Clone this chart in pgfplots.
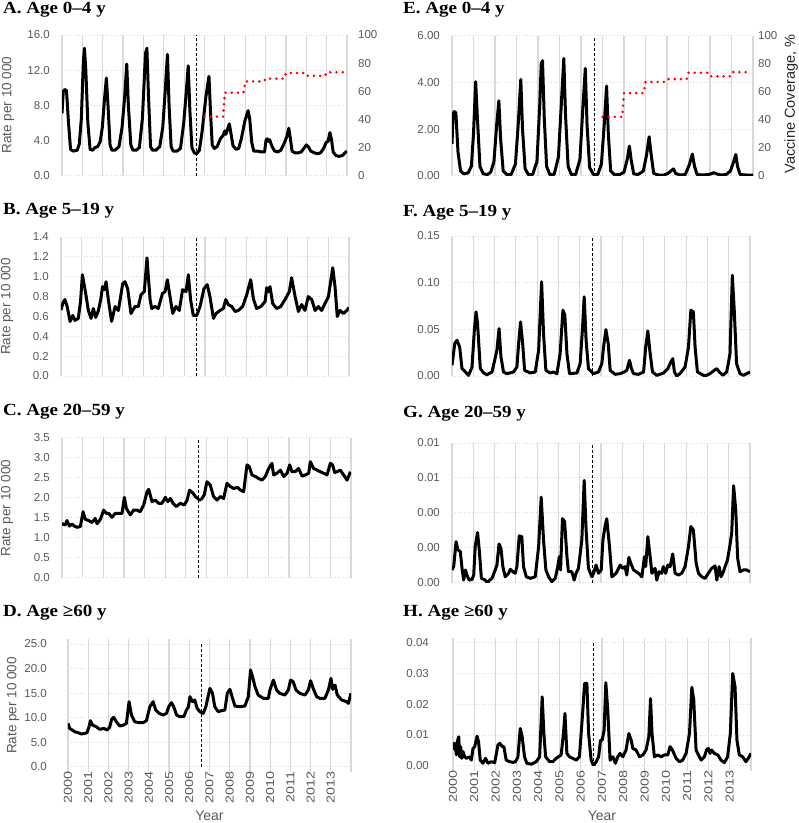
\documentclass[border=0pt]{standalone}
\usepackage{fontspec}
\setmainfont{Liberation Sans}
\newfontfamily\tfont{Liberation Serif}
\usepackage{graphicx}
\usepackage{pgfplots}
\pgfplotsset{compat=1.18}
\definecolor{gridc}{HTML}{D9D9D9}
\definecolor{tickc}{HTML}{595959}
\newcommand\xl[1]{\scalebox{1.25}[1]{#1}}
\pgfplotsset{
 base/.style={scale only axis, xmin=2000, xmax=2014, ymin=0,
   xtick={2000,2001,...,2014}, xticklabels={}, scaled y ticks=false,
   axis line style={draw=none}, major tick length=0pt,
   xmajorgrids, ymajorgrids,
   x grid style={gridc, line width=1.2pt},
   y grid style={gridc, line width=0.9pt, dotted},
   tick label style={font=\fontsize{11.5}{13}\selectfont, text=tickc},
   yticklabel style={inner sep=0pt, anchor=east, xshift=-12pt}},
 bottomrow/.style={
   xticklabels={\xl{2000},\xl{2001},\xl{2002},\xl{2003},\xl{2004},\xl{2005},\xl{2006},\xl{2007},\xl{2008},\xl{2009},\xl{2010},\xl{2011},\xl{2012},\xl{2013},{}},
   xticklabel style={rotate=90, anchor=east, inner xsep=0pt, inner ysep=0pt},
   major tick length=5pt, tick align=outside,
   xtick style={draw=gridc, line width=1.2pt}, ytick style={draw=none},
   extra y ticks={0}, extra y tick labels={},
   extra y tick style={grid style={solid, gridc, line width=1.2pt}}},
 rightax/.style={scale only axis, xmin=2000, xmax=2014, ymin=0, ymax=100,
   axis x line=none, axis y line*=right, axis line style={draw=none},
   major tick length=0pt, ytick={0,20,...,100}, yticklabels={0,20,40,60,80,100},
   tick label style={font=\fontsize{11.5}{13}\selectfont, text=tickc}},
 rate/.style={black, line width=3pt, line join=round, no marks},
 vl/.style={black, line width=0.8pt, dash pattern=on 3pt off 2pt, no marks},
 cov/.style={red, line width=2.8pt, line cap=round, dash pattern=on 0pt off 6.2pt, no marks},
}
\newcommand\ttl[1]{\scalebox{1.12}[1]{\tfont\bfseries\fontsize{17}{19}\selectfont #1}}
\newcommand\ylab[1]{{\fontsize{13.5}{15}\selectfont\color{tickc}#1}}
\begin{document}
\begin{tikzpicture}
\useasboundingbox (0,0) rectangle (799pt,-823pt);
% ---------------- A ----------------
\begin{axis}[base, at={(62pt,-175.7pt)}, anchor=south west, width=285pt, height=140.7pt,
  ymax=16, ytick={0,4,8,12,16}, yticklabels={0.0,4.0,8.0,12.0,16.0}]
\addplot[rate] table {
2000.00 7.1
2000.06 9.5
2000.12 9.8
2000.22 9.7
2000.32 6.0
2000.42 3.0
2000.55 2.8
2000.75 2.9
2000.85 3.6
2000.95 6.5
2001.05 13.0
2001.10 14.5
2001.17 12.0
2001.27 6.0
2001.38 3.0
2001.50 2.9
2001.62 3.2
2001.75 3.3
2001.88 3.9
2001.98 5.5
2002.08 8.5
2002.18 11.1
2002.26 8.0
2002.36 3.5
2002.45 2.9
2002.60 2.9
2002.80 3.3
2002.95 5.5
2003.08 9.0
2003.18 12.7
2003.26 8.0
2003.38 3.5
2003.48 2.9
2003.65 2.9
2003.80 3.2
2003.95 6.5
2004.10 13.9
2004.17 14.5
2004.25 9.0
2004.35 3.3
2004.45 2.9
2004.62 2.9
2004.80 3.3
2004.95 5.5
2005.08 10.0
2005.18 13.8
2005.26 8.0
2005.36 3.3
2005.46 2.8
2005.65 2.8
2005.82 3.1
2005.98 6.0
2006.12 10.0
2006.20 12.5
2006.28 7.5
2006.38 3.2
2006.50 2.6
2006.62 2.5
2006.75 2.9
2006.88 5.0
2007.07 9.0
2007.22 11.3
2007.30 7.0
2007.38 3.5
2007.48 3.1
2007.62 3.3
2007.78 4.2
2007.92 4.6
2008.00 5.1
2008.05 4.7
2008.12 5.2
2008.22 5.9
2008.30 4.8
2008.40 3.4
2008.55 3.0
2008.68 3.1
2008.82 4.3
2008.98 6.2
2009.14 7.4
2009.22 6.5
2009.32 3.8
2009.42 2.8
2009.60 2.8
2009.80 2.7
2009.95 2.7
2010.02 4.0
2010.08 4.2
2010.14 3.9
2010.20 4.1
2010.32 3.3
2010.45 2.8
2010.60 2.7
2010.75 2.9
2010.92 3.7
2011.05 4.5
2011.14 5.4
2011.22 4.2
2011.30 2.8
2011.45 2.6
2011.60 2.6
2011.75 2.7
2011.88 3.1
2012.00 3.5
2012.10 3.3
2012.22 2.8
2012.40 2.6
2012.55 2.5
2012.70 2.6
2012.85 3.1
2012.98 3.8
2013.07 3.9
2013.16 4.9
2013.24 4.1
2013.32 2.7
2013.45 2.3
2013.60 2.2
2013.78 2.3
2013.90 2.6
2014.00 2.8
};
\addplot[vl] coordinates {(2006.6,0) (2006.6,16)};
\end{axis}
\begin{axis}[rightax, at={(62pt,-175.7pt)}, anchor=south west, width=285pt, height=140.7pt,
  yticklabel style={inner sep=0pt, anchor=west, xshift=11pt}]
\addplot[cov] coordinates {(2007.0,42) (2007.917,42) (2008.0,59) (2008.917,59) (2009.0,67) (2009.917,67) (2010.0,69) (2010.917,69) (2011.0,73) (2011.917,73) (2012.0,71) (2012.917,71) (2013.0,73.5) (2013.917,73.5)};
\end{axis}
% ---------------- E ----------------
\begin{axis}[base, at={(452pt,-175.7pt)}, anchor=south west, width=301pt, height=140pt,
  ymax=6, ytick={0,2,4,6}, yticklabels={0.00,2.00,4.00,6.00}]
\addplot[rate] table {
2000.00 1.36
2000.05 2.6
2000.10 2.75
2000.18 2.7
2000.28 1.0
2000.40 0.2
2000.55 0.08
2000.75 0.12
2000.90 0.4
2001.00 1.8
2001.10 4.03
2001.18 2.5
2001.30 0.4
2001.45 0.08
2001.65 0.05
2001.80 0.15
2001.95 0.6
2002.08 2.2
2002.18 3.21
2002.26 1.6
2002.38 0.2
2002.55 0.05
2002.75 0.05
2002.95 0.5
2003.08 2.2
2003.20 4.13
2003.28 2.0
2003.40 0.3
2003.55 0.05
2003.75 0.05
2003.95 0.6
2004.08 3.0
2004.15 4.8
2004.21 4.93
2004.29 2.5
2004.40 0.4
2004.55 0.05
2004.75 0.05
2004.95 0.8
2005.08 3.0
2005.20 5.03
2005.28 2.6
2005.40 0.4
2005.55 0.05
2005.75 0.05
2005.95 0.7
2006.08 2.8
2006.20 4.6
2006.28 2.2
2006.40 0.35
2006.58 0.05
2006.78 0.05
2006.95 0.5
2007.08 2.2
2007.19 3.84
2007.27 1.8
2007.38 0.2
2007.55 0.05
2007.80 0.05
2008.00 0.15
2008.15 0.7
2008.25 1.27
2008.33 0.7
2008.45 0.08
2008.65 0.05
2008.90 0.2
2009.05 0.9
2009.17 1.67
2009.25 1.0
2009.38 0.1
2009.60 0.03
2009.85 0.03
2010.05 0.1
2010.20 0.22
2010.30 0.29
2010.40 0.1
2010.60 0.03
2010.85 0.05
2011.05 0.5
2011.18 0.93
2011.28 0.4
2011.40 0.05
2011.65 0.03
2011.90 0.05
2012.05 0.08
2012.18 0.13
2012.30 0.08
2012.50 0.03
2012.75 0.05
2012.95 0.2
2013.10 0.6
2013.20 0.91
2013.28 0.4
2013.40 0.05
2013.70 0.03
2014.00 0.03
};
\addplot[vl] coordinates {(2006.6,0) (2006.6,6)};
\end{axis}
\begin{axis}[rightax, at={(452pt,-175.7pt)}, anchor=south west, width=301pt, height=140pt,
  yticklabel style={inner sep=0pt, anchor=west, xshift=5pt}]
\addplot[cov] coordinates {(2007.0,42) (2007.917,42) (2008.0,59) (2008.917,59) (2009.0,67) (2009.917,67) (2010.0,69) (2010.917,69) (2011.0,73.5) (2011.917,73.5) (2012.0,71) (2012.917,71) (2013.0,74) (2013.917,74)};
\end{axis}
% ---------------- B ----------------
\begin{axis}[base, at={(61pt,-376pt)}, anchor=south west, width=288pt, height=139pt,
  ymax=1.4, ytick={0,0.2,0.4,0.6,0.8,1.0,1.2,1.4}, yticklabels={0.0,0.2,0.4,0.6,0.8,1.0,1.2,1.4}]
\addplot[rate] table {
2000.00 0.665
2000.10 0.74
2000.19 0.77
2000.30 0.70
2000.44 0.55
2000.57 0.61
2000.68 0.56
2000.84 0.58
2000.95 0.75
2001.04 1.02
2001.17 0.87
2001.33 0.66
2001.46 0.58
2001.57 0.68
2001.69 0.59
2001.82 0.66
2001.94 0.78
2002.02 0.90
2002.11 0.87
2002.19 0.95
2002.30 0.77
2002.46 0.55
2002.63 0.70
2002.79 0.66
2003.00 0.93
2003.11 0.95
2003.24 0.88
2003.40 0.63
2003.60 0.70
2003.76 0.70
2003.89 0.82
2004.05 0.85
2004.18 1.19
2004.33 0.77
2004.41 0.68
2004.57 0.70
2004.73 0.68
2004.93 0.83
2005.06 0.85
2005.17 0.97
2005.30 0.80
2005.43 0.63
2005.59 0.70
2005.75 0.66
2005.91 0.87
2006.08 0.85
2006.19 1.02
2006.30 0.77
2006.43 0.61
2006.60 0.61
2006.76 0.70
2006.95 0.88
2007.11 0.92
2007.24 0.80
2007.41 0.58
2007.54 0.63
2007.73 0.66
2007.89 0.68
2008.01 0.77
2008.13 0.72
2008.30 0.70
2008.46 0.65
2008.62 0.66
2008.83 0.70
2009.03 0.82
2009.22 0.97
2009.35 0.78
2009.51 0.68
2009.72 0.70
2009.92 0.75
2010.00 0.89
2010.08 0.85
2010.16 0.90
2010.29 0.73
2010.48 0.68
2010.68 0.70
2010.89 0.77
2011.10 0.85
2011.21 0.99
2011.38 0.80
2011.54 0.65
2011.70 0.72
2011.86 0.66
2012.02 0.80
2012.19 0.77
2012.35 0.66
2012.51 0.70
2012.67 0.66
2012.83 0.73
2013.00 0.80
2013.21 1.09
2013.32 0.90
2013.43 0.60
2013.56 0.66
2013.73 0.63
2013.89 0.66
2014.00 0.69
};
\addplot[vl] coordinates {(2006.6,0) (2006.6,1.4)};
\end{axis}
% ---------------- F ----------------
\begin{axis}[base, at={(452pt,-376pt)}, anchor=south west, width=298pt, height=140pt,
  ymax=0.15, ytick={0,0.05,0.10,0.15}, yticklabels={0.00,0.05,0.10,0.15}]
\addplot[rate] table {
2000.00 0.0115
2000.13 0.0347
2000.23 0.0383
2000.36 0.0311
2000.47 0.0079
2000.63 0.0043
2000.78 0.0007
2000.94 0.0097
2001.05 0.049
2001.13 0.0687
2001.20 0.0562
2001.33 0.0079
2001.49 0.0032
2001.64 0.0014
2001.88 0.0043
2002.11 0.0276
2002.21 0.0508
2002.30 0.0204
2002.42 0.0043
2002.58 0.0025
2002.89 0.0043
2003.05 0.0097
2003.13 0.0347
2003.22 0.058
2003.32 0.0347
2003.41 0.0061
2003.68 0.0032
2003.91 0.0043
2004.07 0.0276
2004.21 0.101
2004.30 0.0455
2004.41 0.0061
2004.61 0.0032
2004.77 0.0043
2004.93 0.0025
2005.08 0.024
2005.21 0.0705
2005.30 0.0652
2005.40 0.024
2005.52 0.0025
2005.87 0.0032
2006.02 0.0132
2006.13 0.0508
2006.21 0.0849
2006.30 0.0383
2006.41 0.0079
2006.65 0.0025
2006.88 0.0043
2007.04 0.0132
2007.12 0.031
2007.23 0.0498
2007.34 0.0347
2007.43 0.0061
2007.66 0.0018
2007.90 0.0025
2008.09 0.0043
2008.21 0.0061
2008.34 0.0168
2008.43 0.0079
2008.53 0.0025
2008.76 0.0018
2009.00 0.0043
2009.10 0.031
2009.20 0.0483
2009.31 0.024
2009.42 0.0043
2009.62 0.0007
2009.93 0.0032
2010.14 0.0079
2010.28 0.0150
2010.37 0.0186
2010.45 0.0043
2010.56 0.0
2010.71 0.0025
2010.95 0.0097
2011.11 0.031
2011.22 0.0705
2011.34 0.0687
2011.42 0.031
2011.53 0.0043
2011.73 0.0018
2011.89 0.0
2012.12 0.0025
2012.28 0.0054
2012.44 0.0079
2012.56 0.0043
2012.72 0.0007
2012.90 0.0043
2012.98 0.0132
2013.06 0.024
2013.17 0.108
2013.26 0.0705
2013.37 0.0132
2013.53 0.0025
2013.69 0.0007
2013.84 0.0025
2014.00 0.0043
};
\addplot[vl] coordinates {(2006.6,0) (2006.6,0.15)};
\end{axis}
% ---------------- C ----------------
\begin{axis}[base, at={(62pt,-577.7pt)}, anchor=south west, width=289pt, height=140pt,
  ymax=3.5, ytick={0,0.5,1.0,1.5,2.0,2.5,3.0,3.5}, yticklabels={0.0,0.5,1.0,1.5,2.0,2.5,3.0,3.5}]
\addplot[rate] table {
2000.00 1.36
2000.08 1.33
2000.16 1.32
2000.24 1.43
2000.36 1.29
2000.48 1.34
2000.60 1.29
2000.73 1.26
2000.89 1.28
2001.02 1.65
2001.13 1.46
2001.29 1.43
2001.45 1.38
2001.61 1.48
2001.70 1.35
2001.86 1.46
2002.02 1.69
2002.15 1.61
2002.26 1.61
2002.42 1.51
2002.58 1.61
2002.79 1.61
2002.91 1.61
2003.02 2.01
2003.12 1.73
2003.31 1.57
2003.47 1.69
2003.63 1.69
2003.79 1.65
2003.96 1.82
2004.12 2.15
2004.20 2.21
2004.36 1.90
2004.52 1.94
2004.68 1.86
2004.84 1.86
2005.01 2.01
2005.12 1.90
2005.25 1.98
2005.38 1.86
2005.54 1.78
2005.73 1.86
2005.93 1.82
2006.06 1.94
2006.18 2.19
2006.35 2.11
2006.46 2.03
2006.67 1.94
2006.78 1.98
2006.89 2.07
2007.02 2.40
2007.18 2.32
2007.34 2.03
2007.51 1.94
2007.67 2.03
2007.83 1.98
2007.99 2.36
2008.15 2.28
2008.32 2.23
2008.51 2.26
2008.64 2.19
2008.80 2.15
2008.96 2.82
2009.07 2.78
2009.20 2.57
2009.37 2.53
2009.53 2.48
2009.69 2.44
2009.85 2.53
2010.01 2.73
2010.17 2.86
2010.25 2.57
2010.41 2.61
2010.58 2.69
2010.74 2.53
2010.90 2.61
2011.03 2.82
2011.14 2.65
2011.30 2.65
2011.46 2.73
2011.63 2.54
2011.79 2.57
2011.95 2.61
2012.03 2.90
2012.19 2.73
2012.35 2.69
2012.51 2.65
2012.68 2.61
2012.84 2.57
2013.00 2.86
2013.11 2.82
2013.21 2.63
2013.32 2.65
2013.48 2.69
2013.64 2.57
2013.81 2.44
2013.97 2.65
};
\addplot[vl] coordinates {(2006.6,0) (2006.6,3.5)};
\end{axis}
% ---------------- G ----------------
\begin{axis}[base, at={(452pt,-582.7pt)}, anchor=south west, width=298pt, height=139.7pt,
  ymax=0.008, ytick={0,0.002,0.004,0.006,0.008}, yticklabels={0.00,0.00,0.00,0.01,0.01}]
\addplot[rate] table {
2000.00 0.00073
2000.08 0.00092
2000.19 0.00235
2000.28 0.00188
2000.39 0.00178
2000.48 0.00073
2000.55 0.00015
2000.63 0.00073
2000.70 0.00044
2000.81 0.00015
2000.94 0.00019
2001.02 0.00044
2001.09 0.00207
2001.20 0.00287
2001.28 0.00188
2001.38 0.00025
2001.56 0.00015
2001.67 0.0
2001.77 0.00015
2001.88 0.00025
2002.03 0.00073
2002.11 0.00101
2002.21 0.00222
2002.30 0.00197
2002.39 0.00092
2002.50 0.00034
2002.66 0.00054
2002.74 0.00077
2002.86 0.00063
2002.97 0.00054
2003.05 0.00092
2003.16 0.00268
2003.28 0.00264
2003.36 0.00092
2003.49 0.00034
2003.68 0.00025
2003.91 0.00034
2004.07 0.00207
2004.19 0.0049
2004.30 0.00245
2004.41 0.00073
2004.54 0.00034
2004.69 0.00006
2004.85 0.00025
2004.97 0.00092
2005.04 0.00149
2005.10 0.00073
2005.19 0.00367
2005.29 0.00350
2005.40 0.00149
2005.47 0.00063
2005.63 0.00063
2005.74 0.00015
2005.83 0.00054
2005.94 0.00082
2006.10 0.00245
2006.21 0.00586
2006.30 0.00302
2006.41 0.00082
2006.57 0.00034
2006.65 0.00054
2006.77 0.00101
2006.88 0.00054
2007.01 0.00073
2007.09 0.00245
2007.20 0.00331
2007.27 0.00366
2007.40 0.00207
2007.51 0.00034
2007.71 0.00054
2007.90 0.00101
2008.02 0.00082
2008.13 0.00092
2008.21 0.00044
2008.31 0.00145
2008.40 0.00111
2008.53 0.00073
2008.76 0.00054
2008.92 0.00034
2009.04 0.00149
2009.10 0.00092
2009.20 0.00264
2009.31 0.00149
2009.39 0.00054
2009.54 0.00082
2009.62 0.00015
2009.73 0.00063
2009.85 0.00054
2009.93 0.00092
2010.04 0.00054
2010.14 0.00101
2010.25 0.00092
2010.37 0.00165
2010.48 0.00054
2010.64 0.00044
2010.79 0.00054
2010.95 0.00092
2011.11 0.00207
2011.22 0.00322
2011.34 0.00302
2011.47 0.00111
2011.58 0.00054
2011.73 0.00034
2011.89 0.00025
2012.04 0.00054
2012.20 0.00082
2012.36 0.00096
2012.44 0.00015
2012.55 0.00092
2012.64 0.00034
2012.75 0.00063
2012.83 0.00092
2012.94 0.0013
2013.06 0.00216
2013.14 0.00283
2013.23 0.00555
2013.33 0.00417
2013.42 0.0014
2013.53 0.00063
2013.69 0.00073
2013.84 0.00073
2014.00 0.00063
};
\addplot[vl] coordinates {(2006.6,0) (2006.6,0.008)};
\end{axis}
% ---------------- D ----------------
\begin{axis}[base, bottomrow, at={(68pt,-766.7pt)}, anchor=south west, width=283pt, height=122.7pt,
  ymax=25, ytick={0,5,10,15,20,25}, yticklabels={0.0,5.0,10.0,15.0,20.0,25.0},
  yticklabel style={xshift=-4pt}]
\addplot[rate] table {
2000.00 8.83
2000.08 7.81
2000.21 7.47
2000.33 7.13
2000.50 6.93
2000.66 6.66
2000.83 6.79
2000.94 6.93
2001.04 8.15
2001.11 9.38
2001.21 8.49
2001.40 8.15
2001.57 7.61
2001.77 7.81
2001.93 7.47
2002.06 8.02
2002.16 9.65
2002.26 10.05
2002.39 9.17
2002.56 8.29
2002.76 8.49
2002.89 8.83
2003.02 13.25
2003.14 10.53
2003.30 9.17
2003.52 8.97
2003.71 8.97
2003.88 9.38
2004.05 12.23
2004.21 13.25
2004.34 11.55
2004.51 10.87
2004.71 10.53
2004.87 10.87
2005.00 12.36
2005.12 13.04
2005.23 12.23
2005.37 10.53
2005.53 10.19
2005.73 10.19
2005.86 11.55
2005.96 12.23
2006.03 14.27
2006.16 13.25
2006.27 13.59
2006.39 11.89
2006.52 11.21
2006.69 10.87
2006.82 12.23
2007.02 15.96
2007.15 14.95
2007.26 12.23
2007.43 11.21
2007.59 11.41
2007.76 11.55
2007.88 14.95
2008.01 15.76
2008.14 13.93
2008.26 12.36
2008.50 12.23
2008.75 12.36
2008.92 14.27
2009.03 19.70
2009.13 18.34
2009.25 16.30
2009.41 14.60
2009.66 13.93
2009.91 13.93
2009.99 15.63
2010.16 17.66
2010.32 15.63
2010.48 14.95
2010.73 14.60
2010.90 15.63
2011.01 17.66
2011.14 17.32
2011.28 15.63
2011.47 14.95
2011.72 14.60
2011.89 15.63
2012.00 17.53
2012.13 15.96
2012.30 14.27
2012.46 13.93
2012.71 13.93
2012.88 15.63
2013.01 18.00
2013.09 15.76
2013.21 16.64
2013.32 14.60
2013.54 13.59
2013.79 13.25
2013.87 12.91
2014.00 14.95
};
\addplot[vl] coordinates {(2006.6,0) (2006.6,25)};
\end{axis}
% ---------------- H ----------------
\begin{axis}[base, bottomrow, at={(453pt,-765.7pt)}, anchor=south west, width=298pt, height=123pt,
  ymax=0.04, ytick={0,0.01,0.02,0.03,0.04}, yticklabels={0.00,0.01,0.02,0.03,0.04},
  yticklabel style={xshift=-7pt}]
\addplot[rate] table {
2000.00 0.0051
2000.05 0.0073
2000.11 0.0062
2000.16 0.0035
2000.20 0.0078
2000.27 0.0094
2000.31 0.0029
2000.36 0.0062
2000.41 0.0024
2000.47 0.0046
2000.55 0.0029
2000.63 0.0024
2000.78 0.0029
2000.86 0.0018
2000.94 0.0056
2001.02 0.0062
2001.13 0.0096
2001.20 0.0078
2001.28 0.0018
2001.41 0.0008
2001.53 0.0024
2001.64 0.0008
2001.80 0.0013
2001.96 0.0010
2002.11 0.0067
2002.19 0.0073
2002.32 0.0062
2002.39 0.0062
2002.50 0.0018
2002.66 0.0013
2002.82 0.0011
2002.94 0.0013
2003.05 0.0029
2003.16 0.0121
2003.25 0.0094
2003.36 0.0029
2003.47 0.0008
2003.68 0.0005
2003.91 0.0013
2004.07 0.0029
2004.19 0.0224
2004.27 0.0105
2004.35 0.0029
2004.54 0.0013
2004.69 0.0013
2004.85 0.0024
2005.08 0.0035
2005.19 0.0105
2005.26 0.0170
2005.35 0.0040
2005.47 0.0029
2005.63 0.0024
2005.79 0.0018
2005.94 0.0029
2006.10 0.0181
2006.18 0.0268
2006.29 0.0268
2006.37 0.0105
2006.49 0.0018
2006.60 0.0
2006.73 0.0013
2006.84 0.0029
2006.93 0.0083
2007.01 0.0083
2007.10 0.0116
2007.18 0.0270
2007.27 0.0181
2007.38 0.0018
2007.51 0.0029
2007.63 0.0008
2007.74 0.0029
2007.85 0.0040
2007.98 0.0029
2008.13 0.0051
2008.26 0.0105
2008.37 0.0083
2008.45 0.0056
2008.60 0.0051
2008.76 0.0029
2008.92 0.0035
2009.07 0.0051
2009.20 0.0094
2009.28 0.0218
2009.35 0.0105
2009.46 0.0029
2009.62 0.0035
2009.78 0.0029
2009.93 0.0035
2010.09 0.0035
2010.20 0.0062
2010.31 0.0051
2010.48 0.0024
2010.64 0.0013
2010.79 0.0018
2010.95 0.0040
2011.11 0.0105
2011.22 0.0255
2011.31 0.0214
2011.42 0.0051
2011.53 0.0035
2011.66 0.0018
2011.81 0.0029
2011.92 0.0053
2012.00 0.0056
2012.08 0.0040
2012.15 0.0051
2012.28 0.0040
2012.44 0.0035
2012.59 0.0018
2012.75 0.0010
2012.90 0.0029
2013.03 0.0105
2013.14 0.0300
2013.25 0.0257
2013.34 0.0083
2013.45 0.0035
2013.61 0.0029
2013.76 0.0013
2013.87 0.0024
2014.00 0.0040
};
\addplot[vl] coordinates {(2006.6,0) (2006.6,0.04)};
\end{axis}
% ---------------- titles and labels ----------------
\node[anchor=base west, inner sep=0pt] at (3pt,-13.5pt) {\ttl{A. Age 0–4 y}};
\node[anchor=base west, inner sep=0pt] at (403pt,-13.5pt) {\ttl{E. Age 0–4 y}};
\node[anchor=base west, inner sep=0pt] at (3pt,-214.5pt) {\ttl{B. Age 5–19 y}};
\node[anchor=base west, inner sep=0pt] at (403pt,-216pt) {\ttl{F. Age 5–19 y}};
\node[anchor=base west, inner sep=0pt] at (3pt,-415pt) {\ttl{C. Age 20–59 y}};
\node[anchor=base west, inner sep=0pt] at (403pt,-417pt) {\ttl{G. Age 20–59 y}};
\node[anchor=base west, inner sep=0pt] at (3pt,-616pt) {\ttl{D. Age ≥60 y}};
\node[anchor=base west, inner sep=0pt] at (403pt,-616pt) {\ttl{H. Age ≥60 y}};
\node[rotate=90, inner sep=0pt] at (8pt,-105pt) {\ylab{Rate per 10 000}};
\node[rotate=90, inner sep=0pt] at (7pt,-306.5pt) {\ylab{Rate per 10 000}};
\node[rotate=90, inner sep=0pt] at (7pt,-508pt) {\ylab{Rate per 10 000}};
\node[rotate=90, inner sep=0pt] at (13pt,-705.5pt) {\ylab{Rate per 10 000}};
\node[rotate=90, inner sep=0pt] at (791pt,-104pt) {{\fontsize{14.5}{16}\selectfont\color{black!85}Vaccine Coverage, \%}};
\node[inner sep=0pt] at (209.5pt,-816pt) {{\fontsize{14}{16}\selectfont\color{tickc}Year}};
\node[inner sep=0pt] at (602pt,-816pt) {{\fontsize{14}{16}\selectfont\color{tickc}Year}};
\end{tikzpicture}
\end{document}
